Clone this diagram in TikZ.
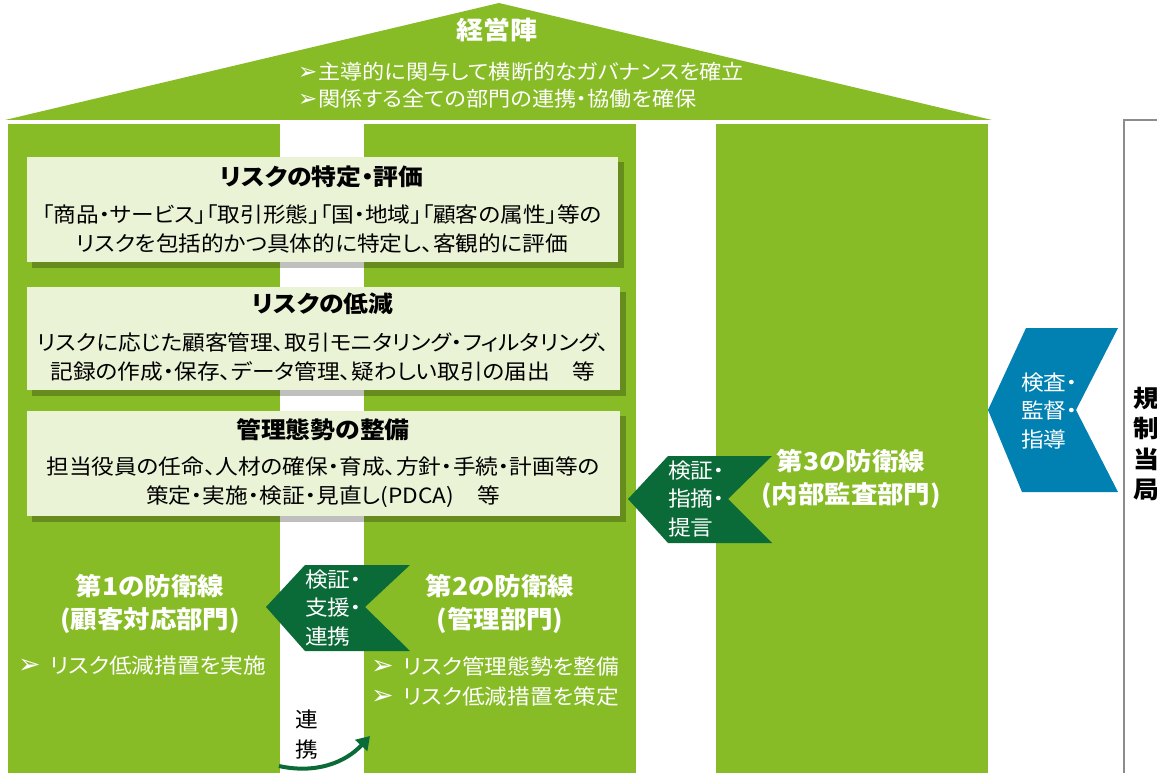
\documentclass[tikz,border=0pt]{standalone}
\usepackage{fontspec}
\setmainfont{Noto Sans CJK JP}[RawFeature=+palt,FakeStretch=1.08]
\newfontfamily\dv{DejaVu Sans}
\usetikzlibrary{arrows.meta}
\definecolor{olive}{HTML}{88BC27}
\definecolor{dkgreen}{HTML}{0B6B38}
\definecolor{blueA}{HTML}{0180B2}
\definecolor{lightbox}{HTML}{EAF3D6}
\definecolor{framegray}{HTML}{8C8C8C}
\newcommand{\rbul}{{\dv\fontsize{23}{23}\selectfont ➢}}
\newcommand{\cbul}{{\dv\fontsize{27}{27}\selectfont ➢}}
\begin{document}
\begin{tikzpicture}[x=1pt,y=-1pt,
  colfill/.style={fill=olive},
  infobox/.style={fill=lightbox},
  boxshadow/.style={fill=black,opacity=0.25},
  chevgreen/.style={fill=dkgreen},
  chevblue/.style={fill=blueA},
  roofhead/.style={text=white,font=\bfseries\fontsize{25}{30}\selectfont,inner sep=0pt},
  roofline/.style={text=white,font=\fontsize{20.5}{27}\selectfont,inner sep=0pt,anchor=west},
  boxtitle/.style={font=\bfseries\fontsize{23}{28}\selectfont,inner sep=0pt},
  boxbody/.style={font=\fontsize{21}{28.5}\selectfont,inner sep=0pt,align=center},
  coltitle/.style={text=white,font=\bfseries\fontsize{24.5}{33}\selectfont,inner sep=0pt,align=center},
  colitem/.style={text=white,font=\fontsize{21}{30}\selectfont,inner sep=0pt,anchor=west,align=left},
  arrowlabel/.style={text=white,font=\fontsize{21}{28.5}\selectfont,inner sep=0pt,align=left,anchor=west},
  sidelabel/.style={font=\bfseries\fontsize{24}{30.5}\selectfont,inner sep=0pt,align=center},
  linklabel/.style={font=\fontsize{21}{30}\selectfont,inner sep=0pt,align=center},
]
\useasboundingbox (0,0) rectangle (1157,773);
\fill[white] (0,0) rectangle (1157,773);

% roof
\fill[colfill] (5,120) -- (499,3) -- (992,120) -- cycle;
\node[roofhead] (head) at (497,30) {経営陣};
\node[roofline] (roof1) at (298,72) {\rbul\hspace{1pt}主導的に関与して横断的なガバナンスを確立};
\node[roofline] (roof2) at (298,99) {\rbul\hspace{1pt}関係する全ての部門の連携・協働を確保};

% columns
\fill[colfill] (8,124) rectangle (280,773);
\fill[colfill] (364,124) rectangle (636,773);
\fill[colfill] (716,124) rectangle (988,773);

% info boxes
\fill[boxshadow] (32,162) rectangle (624,268);
\fill[infobox] (27,157) rectangle (618,262);
\node[boxtitle] (t1) at (322,177) {リスクの特定・評価};
\node[boxbody] (b1) at (322,229) {「商品・サービス」「取引形態」「国・地域」「顧客の属性」等の\\リスクを包括的かつ具体的に特定し、客観的に評価};

\fill[boxshadow] (32,292) rectangle (626,396);
\fill[infobox] (27,287) rectangle (620,390);
\node[boxtitle] (t2) at (323,304) {リスクの低減};
\node[boxbody] (b2) at (323,357) {リスクに応じた顧客管理、取引モニタリング・フィルタリング、\\記録の作成・保存、データ管理、疑わしい取引の届出　等};

\fill[boxshadow] (32,416) rectangle (626,522);
\fill[infobox] (27,411) rectangle (620,516);
\node[boxtitle] (t3) at (323,430) {管理態勢の整備};
\node[boxbody] (b3) at (323,482) {担当役員の任命、人材の確保・育成、方針・手続・計画等の\\策定・実施・検証・見直し(PDCA)　等};

% third line
\node[coltitle] (c3) at (851,479) {第3の防衛線\\(内部監査部門)};
\fill[chevgreen] (668,456) -- (772,456) -- (728,499) -- (772,543) -- (668,543) -- (628,499) -- cycle;
\node[arrowlabel] (a3) at (668,499) {検証・\\指摘・\\提言};

% regulator
\fill[chevblue] (1026,328) -- (1118,328) -- (1076,410) -- (1118,492) -- (1022,492) -- (988,410) -- cycle;
\node[arrowlabel] (ab) at (1021,411) {検査・\\監督・\\指導};
\draw[framegray,line width=2pt] (1157,120) -- (1124,120) -- (1124,773);
\node[sidelabel] (reg) at (1146,444) {規\\制\\当\\局};

% first and second lines
\node[coltitle] (c1) at (150,604) {第1の防衛線\\(顧客対応部門)};
\node[coltitle] (c2) at (500,604) {第2の防衛線\\(管理部門)};
\fill[chevgreen] (305,565) -- (410,565) -- (365,607) -- (410,651) -- (305,651) -- (266,607) -- cycle;
\node[arrowlabel] (a12) at (305,608) {検証・\\支援・\\連携};
\node[colitem] (i1) at (18,666) {\cbul\hspace{9pt}リスク低減措置を実施};
\node[colitem] (i2) at (371,682) {\cbul\hspace{9pt}リスク管理態勢を整備\\\cbul\hspace{9pt}リスク低減措置を策定};

% link arrow
\node[linklabel] (lk) at (307,735) {連\\携};
\coordinate (ls) at (279,766);
\coordinate (le) at (370,736);
\draw[dkgreen,line width=4pt,-{Triangle[length=13pt,width=16pt]}] (ls) .. controls (315,774) and (345,763) .. (le);
\end{tikzpicture}
\end{document}
